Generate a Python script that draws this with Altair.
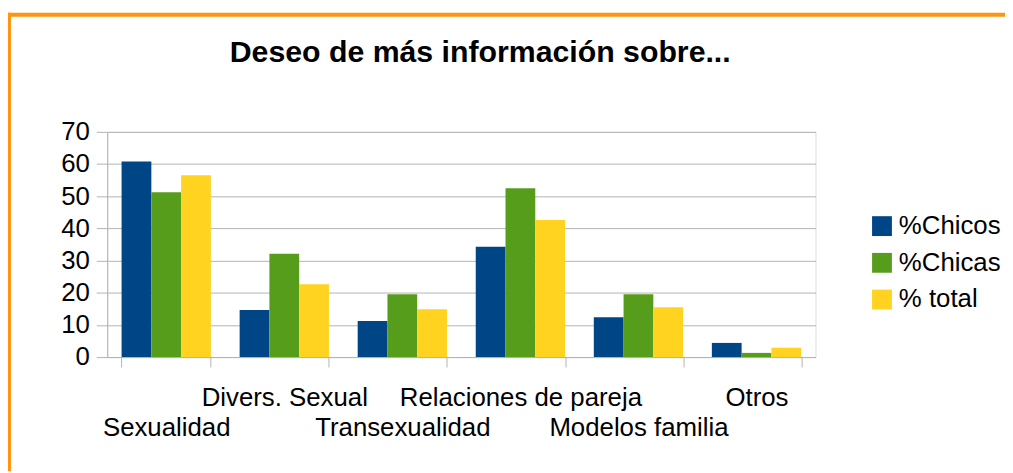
import json
import altair as alt
import pandas as pd

categories = ["Sexualidad", "Divers. Sexual", "Transexualidad",
              "Relaciones de pareja", "Modelos familia", "Otros"]
chicos = [60.8, 14.6, 11.2, 34.3, 12.4, 4.4]
chicas = [51.2, 32.1, 19.5, 52.5, 19.5, 1.3]
total = [56.5, 22.6, 14.9, 42.6, 15.5, 2.9]
series = ["%Chicos", "%Chicas", "% total"]
colors = ["#004586", "#579d1c", "#ffd320"]
y_ticks = [0, 10, 20, 30, 40, 50, 60, 70]
upper_row = ["Divers. Sexual", "Relaciones de pareja", "Otros"]

rows = []
for s, vals in zip(series, [chicos, chicas, total]):
    for c, v in zip(categories, vals):
        rows.append({"categoria": c, "serie": s, "valor": v})
df = pd.DataFrame(rows)

label_expr = ("indexof(" + json.dumps(upper_row) +
              ", datum.value) >= 0 ? [datum.label] : ['', datum.label]")

FONT = "Liberation Sans"
GRAY = "#b3b3b3"
ORANGE = "#ff950e"

bars = alt.Chart(df).mark_bar().encode(
    x=alt.X("categoria:N", sort=categories, title=None,
            scale=alt.Scale(paddingInner=0.2437, paddingOuter=0.1218),
            axis=alt.Axis(labelAngle=0, labelExpr=label_expr, labelOverlap=False,
                          labelLimit=500,
                          tickBand="extent", tickSize=10, labelPadding=18,
                          labelLineHeight=30, labelFontSize=26, labelFont=FONT,
                          labelColor="black", domainColor=GRAY, tickColor=GRAY,
                          grid=False)),
    xOffset=alt.XOffset("serie:N", sort=series),
    y=alt.Y("valor:Q", scale=alt.Scale(domain=[0, 70], nice=False),
            axis=alt.Axis(values=y_ticks, title=None, tickSize=11, labelPadding=7,
                          labelFontSize=26, labelFont=FONT, labelColor="black",
                          domainColor=GRAY, tickColor=GRAY, gridColor=GRAY)),
    color=alt.Color("serie:N", sort=series,
                    scale=alt.Scale(domain=series, range=colors),
                    legend=alt.Legend(title=None, orient="none", legendX=768, legendY=82,
                                      symbolType="square", symbolSize=400,
                                      symbolStrokeWidth=0, labelFontSize=26,
                                      labelFont=FONT, labelColor="black",
                                      rowPadding=11, labelOffset=4)),
)

frame_df = pd.DataFrame({"k": [0]})
top_line = alt.Chart(frame_df).mark_rule(color=ORANGE, strokeWidth=4).encode(
    x=alt.value(-100), x2=alt.value(905), y=alt.value(-118))
left_line = alt.Chart(frame_df).mark_rule(color=ORANGE, strokeWidth=4).encode(
    x=alt.value(-99), y=alt.value(-120), y2=alt.value(342))

chart = alt.layer(bars, top_line, left_line).properties(
    width=714, height=227,
    title=alt.TitleParams("Deseo de más información sobre...", fontSize=30.5,
                          fontWeight="bold", font=FONT, color="black",
                          anchor="middle", frame="group", baseline="alphabetic",
                          dx=19, dy=82, offset=0),
    autosize=alt.AutoSizeParams(type="none"),
    padding={"left": 100, "top": 123, "right": 191, "bottom": 115},
).configure_view(stroke=GRAY).configure(background="white")

chart.save("out.html", embed_options={"renderer": "svg", "actions": False})
